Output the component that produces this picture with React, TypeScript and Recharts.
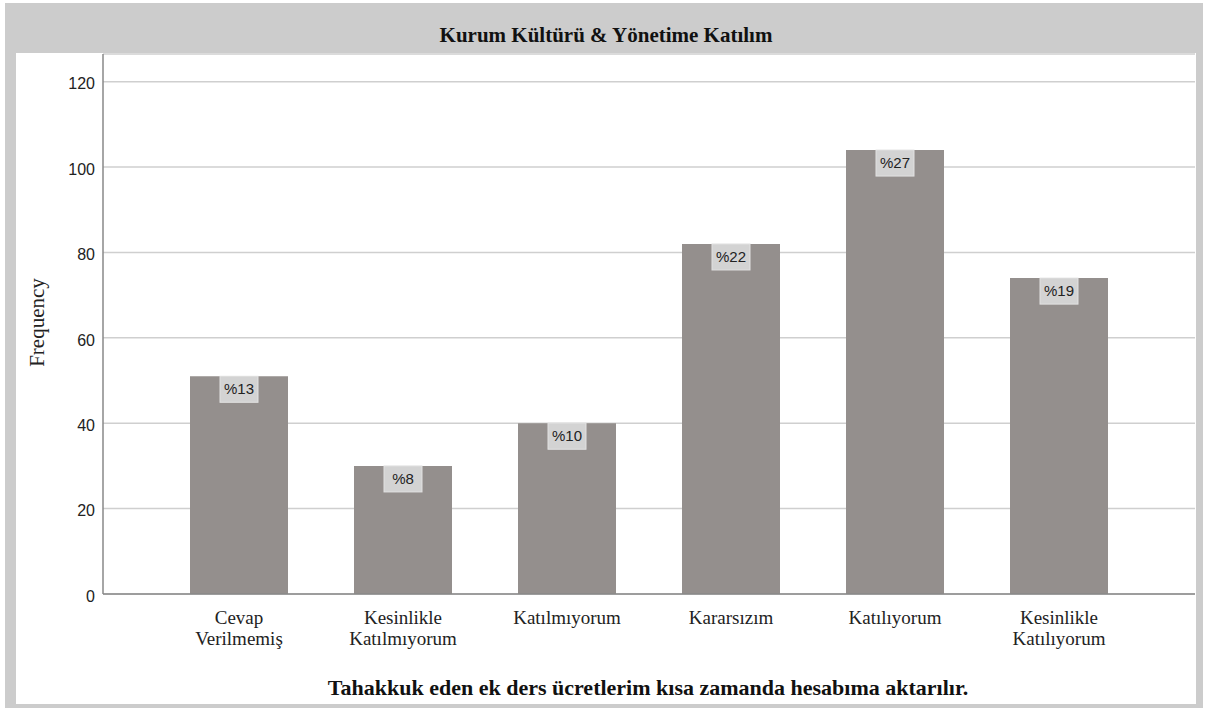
import React from 'react';
import { BarChart, Bar, XAxis, YAxis, CartesianGrid, LabelList } from 'recharts';

const categories = ['Cevap\nVerilmemiş', 'Kesinlikle\nKatılmıyorum', 'Katılmıyorum', 'Kararsızım', 'Katılıyorum', 'Kesinlikle\nKatılıyorum'];
const frequencies = [51, 30, 40, 82, 104, 74];
const percentLabels = ['%13', '%8', '%10', '%22', '%27', '%19'];
const yTicks = [0, 20, 40, 60, 80, 100, 120];

const chartTitle = 'Kurum Kültürü & Yönetime Katılım';
const xTitle = 'Tahakkuk eden ek ders ücretlerim kısa zamanda hesabıma aktarılır.';
const yTitle = 'Frequency';

const data = categories.map((name, i) => ({ name, value: frequencies[i], pct: percentLabels[i] }));

const SERIF = '"Liberation Serif", "Times New Roman", serif';
const SANS = '"Liberation Sans", Arial, sans-serif';

const CategoryTick = (props: any) => {
  const { x, y, payload } = props;
  const lines = String(payload.value).split('\n');
  return (
    <text x={x} y={y} textAnchor="middle" fontFamily={SERIF} fontSize={19} fill="#222">
      {lines.map((line, i) => (
        <tspan key={i} x={x} y={y + 30 + i * 21}>{line}</tspan>
      ))}
    </text>
  );
};

const PercentBox = (props: any) => {
  const { x, y, width, value } = props;
  const cx = x + width / 2;
  return (
    <g>
      <rect x={cx - 19} y={y} width={38} height={26} fill="#d3d3d3" stroke="#e2e2e2" strokeWidth={1} />
      <text x={cx} y={y + 18} textAnchor="middle" fontFamily={SANS} fontSize={15} fill="#222">{value}</text>
    </g>
  );
};

export default function App() {
  return (
    <div style={{ position: 'absolute', left: 0, top: 0, width: 1208, height: 708, background: '#fff', overflow: 'hidden' }}>
      <div style={{ position: 'absolute', left: 5, top: 3, width: 1198, height: 705, background: '#cccccc' }} />
      <div style={{ position: 'absolute', left: 16, top: 53, width: 1180, height: 651, background: '#ffffff' }} />
      <div style={{ position: 'absolute', left: 206, top: 25, width: 800, textAlign: 'center', fontFamily: SERIF, fontWeight: 'bold', fontSize: 21, lineHeight: '21px', color: '#111' }}>
        {chartTitle}
      </div>
      <div style={{ position: 'absolute', left: 148, top: 677, width: 1000, textAlign: 'center', fontFamily: SERIF, fontWeight: 'bold', fontSize: 22, lineHeight: '22px', color: '#111' }}>
        {xTitle}
      </div>
      <div style={{ position: 'absolute', left: 37 - 100, top: 323 - 11, width: 200, textAlign: 'center', fontFamily: SERIF, fontSize: 21, lineHeight: '21px', color: '#222', transform: 'rotate(-90deg)' }}>
        {yTitle}
      </div>
      <div style={{ position: 'absolute', left: 0, top: 0 }}>
        <BarChart width={1208} height={708} data={data} margin={{ top: 54, right: 13, bottom: 54, left: 43 }} barSize={98}>
          <CartesianGrid vertical={false} stroke="#cfcfcf" strokeWidth={1.5} />
          <XAxis
            dataKey="name"
            interval={0}
            padding={{ left: 54, right: 54 }}
            axisLine={{ stroke: '#888', strokeWidth: 1.5 }}
            tickLine={false}
            tickSize={0}
            tickMargin={0}
            height={60}
            tick={<CategoryTick />}
          />
          <YAxis
            width={60}
            domain={[0, 126.5]}
            ticks={yTicks}
            allowDataOverflow
            axisLine={{ stroke: '#888', strokeWidth: 1.5 }}
            tickLine={false}
            tickSize={0}
            tickMargin={8}
            tick={{ fontFamily: SANS, fontSize: 16, fill: '#222', dy: 2 }}
          />
          <Bar dataKey="value" fill="#948f8d" isAnimationActive={false}>
            <LabelList dataKey="pct" content={<PercentBox />} />
          </Bar>
        </BarChart>
      </div>
    </div>
  );
}
